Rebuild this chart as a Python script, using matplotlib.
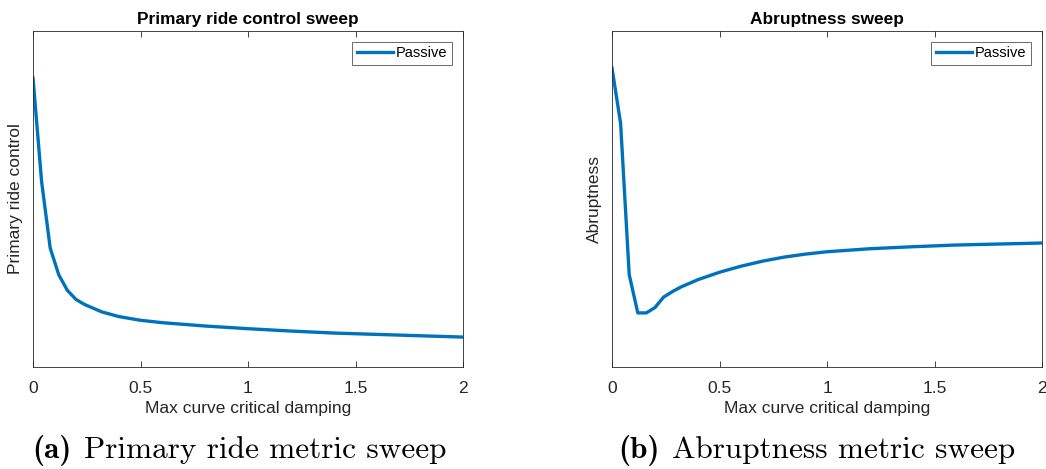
import matplotlib
matplotlib.use('Agg')
import matplotlib.pyplot as plt
from matplotlib.offsetbox import TextArea, HPacker, AnchoredOffsetbox

damping = [0, 0.04, 0.08, 0.12, 0.16, 0.20, 0.24, 0.28, 0.32, 0.40, 0.50,
           0.60, 0.70, 0.80, 0.90, 1.00, 1.20, 1.40, 1.60, 1.80, 2.00]
primary_ride = [0.860, 0.552, 0.354, 0.274, 0.228, 0.201, 0.186, 0.175, 0.164,
                0.150, 0.139, 0.132, 0.127, 0.122, 0.118, 0.114, 0.107, 0.101,
                0.097, 0.093, 0.089]
abruptness = [0.890, 0.725, 0.275, 0.161, 0.161, 0.177, 0.208, 0.224, 0.238,
              0.260, 0.282, 0.300, 0.315, 0.327, 0.336, 0.343, 0.352, 0.358,
              0.363, 0.366, 0.369]
xticks = [0, 0.5, 1, 1.5, 2]
xticklabels = ['0', '0.5', '1', '1.5', '2']

titles = ['Primary ride control sweep', 'Abruptness sweep']
ylabels = ['Primary ride control', 'Abruptness']
cap_tags = ['(a)', '(b)']
cap_texts = ['Primary ride metric sweep', 'Abruptness metric sweep']

plt.rcParams['font.family'] = ['Liberation Sans', 'DejaVu Sans']
grey = '#262626'
blue = '#0072BD'

fig = plt.figure(figsize=(10.46, 4.69), dpi=100)
W, H = 1046, 469
# axes boxes in pixels: left, top, right, bottom
boxes = [(33, 31, 463, 367), (612, 31, 1042, 367)]
series = [primary_ride, abruptness]
cap_x = [239, 817]

for i in range(2):
    l, t, r, b = boxes[i]
    ax = fig.add_axes([l / W, 1 - b / H, (r - l) / W, (b - t) / H])
    ax.plot(damping, series[i], color=blue, linewidth=2.4, label='Passive')
    ax.set_xlim(0, 2)
    ax.set_ylim(0, 1)
    ax.set_xticks(xticks)
    ax.set_xticklabels(xticklabels)
    ax.set_yticks([])
    ax.tick_params(axis='x', direction='in', length=4, width=0.6, colors=grey,
                   labelsize=12.5, top=True, pad=10)
    for s in ax.spines.values():
        s.set_color(grey)
        s.set_linewidth(0.6)
    ax.set_title(titles[i], fontsize=12.4, fontweight='bold', pad=5)
    ax.set_xlabel('Max curve critical damping', fontsize=12.5, color=grey, labelpad=4)
    ax.set_ylabel(ylabels[i], fontsize=12.5, color=grey, labelpad=7)
    leg = ax.legend(loc='upper right', fontsize=10.5, fancybox=False,
                    handlelength=2.5, borderaxespad=0.75, borderpad=0.3,
                    handletextpad=0.2)
    leg.get_frame().set_edgecolor(grey)
    leg.get_frame().set_linewidth(0.6)

    # caption under each panel: bold tag + roman text
    tag = TextArea(cap_tags[i], textprops=dict(family='cmb10', size=22.5))
    txt = TextArea(cap_texts[i], textprops=dict(family='cmr10', size=22.5))
    pack = HPacker(children=[tag, txt], sep=9, align='baseline', pad=0)
    box = AnchoredOffsetbox(loc='center', child=pack, frameon=False, pad=0,
                            bbox_to_anchor=(cap_x[i] / W, 1 - 450 / H),
                            bbox_transform=fig.transFigure)
    fig.add_artist(box)

plt.savefig('out.png', dpi=100)
